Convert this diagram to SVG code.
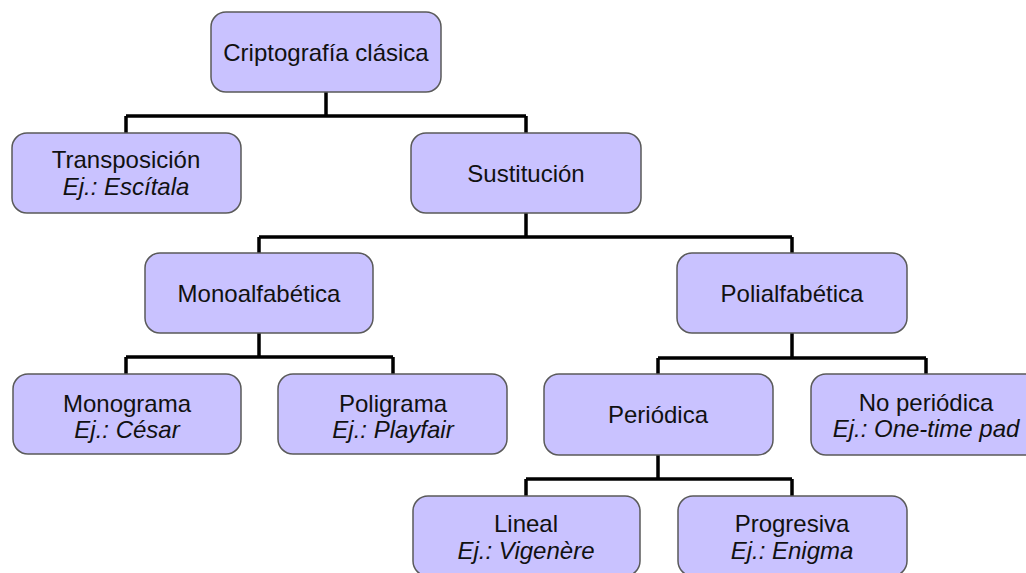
<svg xmlns="http://www.w3.org/2000/svg" width="1026" height="573" viewBox="0 0 1026 573">
<style>
.box{fill:#c9c2ff;stroke:#5a5a5a;stroke-width:1.5}
.t{font-family:"Liberation Sans",Arial,sans-serif;font-size:24px;fill:#111;text-anchor:middle}
.i{font-style:italic}
.c{fill:none;stroke:#000;stroke-width:3.5}
</style>
<rect width="1026" height="573" fill="#fff"/>
<g id="connectors">
<path class="c" d="M326 92V116M126 116H526M126 116V133M526 116V133"/>
<path class="c" d="M526 213V237M259 237H792M259 237V253M792 237V253"/>
<path class="c" d="M259 333V357M126 357H393M126 357V374M393 357V374"/>
<path class="c" d="M792 333V358M658 358H926M658 358V374M926 358V374"/>
<path class="c" d="M658 455V479M526 479H792M526 479V496M792 479V496"/>
</g>
<g id="root"><rect class="box" x="211" y="12" width="230" height="80" rx="15"/><text class="t" x="326" y="61">Criptografía clásica</text></g>
<g id="transposicion"><rect class="box" x="12" y="133" width="229" height="80" rx="15"/><text class="t" x="126" y="168">Transposición</text><text class="t i" x="126" y="195">Ej.: Escítala</text></g>
<g id="sustitucion"><rect class="box" x="411" y="133" width="230" height="80" rx="15"/><text class="t" x="526" y="182">Sustitución</text></g>
<g id="monoalfabetica"><rect class="box" x="145" y="253" width="228" height="80" rx="15"/><text class="t" x="259" y="302">Monoalfabética</text></g>
<g id="polialfabetica"><rect class="box" x="677" y="253" width="230" height="80" rx="15"/><text class="t" x="792" y="302">Polialfabética</text></g>
<g id="monograma"><rect class="box" x="13" y="374" width="228" height="80" rx="15"/><text class="t" x="127" y="412">Monograma</text><text class="t i" x="127" y="438">Ej.: César</text></g>
<g id="poligrama"><rect class="box" x="278" y="374" width="229" height="80" rx="15"/><text class="t" x="393" y="412">Poligrama</text><text class="t i" x="393" y="438">Ej.: Playfair</text></g>
<g id="periodica"><rect class="box" x="544" y="374" width="229" height="81" rx="15"/><text class="t" x="658" y="423">Periódica</text></g>
<g id="noperiodica"><rect class="box" x="811" y="374" width="230" height="81" rx="15"/><text class="t" x="926" y="411">No periódica</text><text class="t i" x="926" y="437">Ej.: One-time pad</text></g>
<g id="lineal"><rect class="box" x="413" y="496" width="227" height="80" rx="15"/><text class="t" x="526" y="532">Lineal</text><text class="t i" x="526" y="559">Ej.: Vigenère</text></g>
<g id="progresiva"><rect class="box" x="678" y="496" width="229" height="80" rx="15"/><text class="t" x="792" y="532">Progresiva</text><text class="t i" x="792" y="559">Ej.: Enigma</text></g>
</svg>
